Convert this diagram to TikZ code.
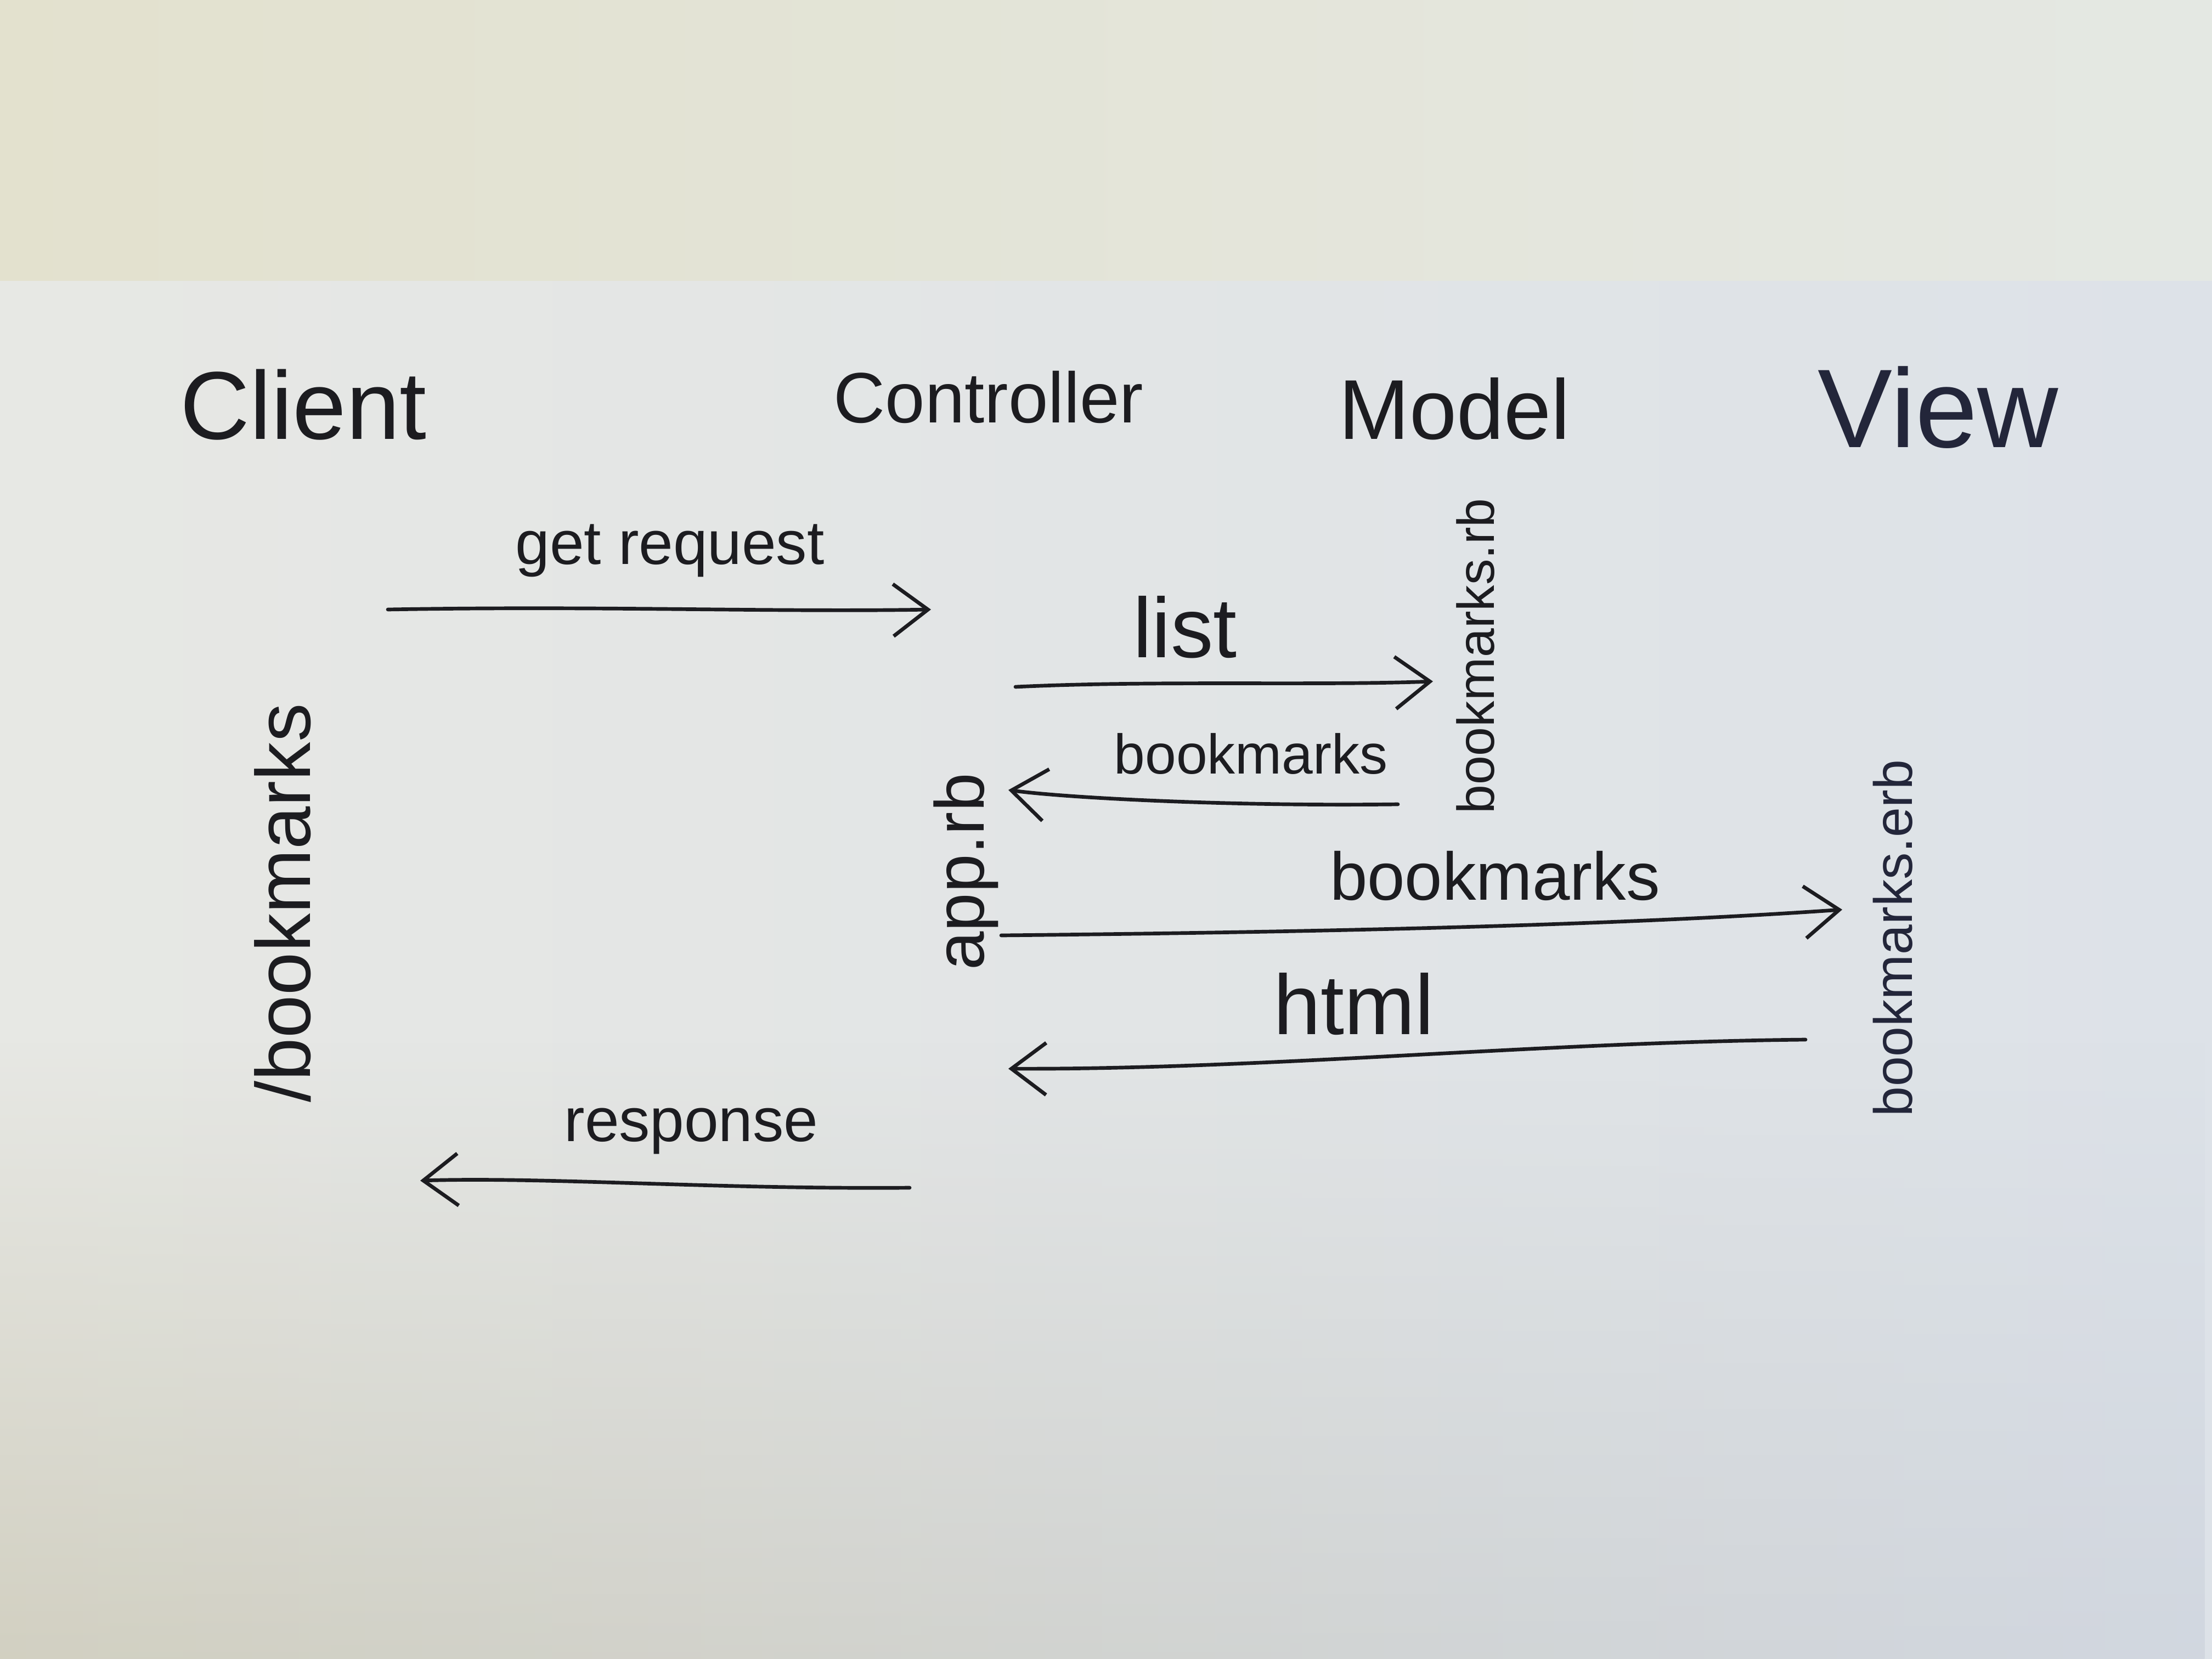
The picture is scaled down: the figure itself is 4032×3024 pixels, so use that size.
\documentclass[tikz,border=0pt]{standalone}
\usepackage{fontspec}
\setmainfont{Liberation Sans}
\usetikzlibrary{arrows.meta,fadings}
\definecolor{inkc}{HTML}{1C1C20}
\definecolor{navyink}{HTML}{23263A}
\definecolor{wallL}{HTML}{E3E1CE}
\definecolor{wallR}{HTML}{E4E8E3}
\definecolor{boardL}{HTML}{E7E8E4}
\definecolor{boardR}{HTML}{DDE2E8}
\definecolor{shadowL}{HTML}{CBC8B6}
\definecolor{shadowR}{HTML}{CDD3DD}
\begin{document}
\begin{tikzpicture}[x=0.01cm,y=-0.01cm,
  stroke/.style={draw=inkc,line width=1.9pt,line cap=round,line join=round},
  flow/.style={stroke,-{Straight Barb[length=18pt,width=27pt]}},
  head/.style={text=inkc,inner sep=0pt,anchor=base},
  lab/.style={text=inkc,inner sep=0pt,anchor=base},
  vert/.style={text=inkc,inner sep=0pt,rotate=90}]
% background
\useasboundingbox (0,0) rectangle (4032,3024);
\shade[left color=wallL,right color=wallR] (0,0) rectangle (4032,512);
\shade[left color=boardL,right color=boardR] (0,512) rectangle (4032,3024);
\shade[left color=shadowL,right color=shadowR,path fading=north,opacity=0.75] (0,1900) rectangle (4032,3024);
% headings
\node[head,font=\fontsize{50}{56}\selectfont] (client) at (553,800) {Client};
\node[head,font=\fontsize{37}{42}\selectfont] (controller) at (1802,770) {Controller};
\node[head,font=\fontsize{44}{50}\selectfont] (model) at (2651,800) {Model};
\node[head,font=\fontsize{58}{64}\selectfont,text=navyink] (view) at (3533,815) {View};
% vertical file names
\node[vert,font=\fontsize{40}{46}\selectfont] (route) at (515,1646) {/bookmarks};
\node[vert,font=\fontsize{36}{42}\selectfont] (app) at (1761,1589) {app.rb};
\node[vert,font=\fontsize{27}{32}\selectfont] (modelfile) at (2690,1196) {bookmarks.rb};
\node[vert,font=\fontsize{28}{34}\selectfont,text=navyink] (viewfile) at (3450,1710) {bookmarks.erb};
% arrow end points
\coordinate (a1s) at (707,1111);  \coordinate (a1e) at (1697,1111);
\coordinate (a2s) at (1851,1252); \coordinate (a2e) at (2612,1242);
\coordinate (a3s) at (2548,1466); \coordinate (a3e) at (1838,1440);
\coordinate (a4s) at (1825,1705); \coordinate (a4e) at (3358,1658);
\coordinate (a5s) at (3291,1895); \coordinate (a5e) at (1838,1948);
\coordinate (a6s) at (1658,2165); \coordinate (a6e) at (766,2152);
% arrows
\draw[flow] (a1s) .. controls (1100,1104) and (1400,1116) .. (a1e);
\draw[flow] (a2s) .. controls (2100,1240) and (2400,1250) .. (a2e);
\draw[flow] (a3s) .. controls (2250,1470) and (1950,1455) .. (a3e);
\draw[flow] (a4s) .. controls (2300,1700) and (2900,1690) .. (a4e);
\draw[flow] (a5s) .. controls (2800,1900) and (2300,1950) .. (a5e);
\draw[flow] (a6s) .. controls (1300,2168) and (1000,2145) .. (a6e);
% arrow labels
\node[lab,font=\fontsize{32}{38}\selectfont] (l1) at (1221,1028) {get request};
\node[lab,font=\fontsize{44}{50}\selectfont] (l2) at (2160,1198) {list};
\node[lab,font=\fontsize{29}{34}\selectfont] (l3) at (2280,1410) {bookmarks};
\node[lab,font=\fontsize{35}{40}\selectfont] (l4) at (2725,1640) {bookmarks};
\node[lab,font=\fontsize{44}{50}\selectfont] (l5) at (2468,1885) {html};
\node[lab,font=\fontsize{32}{38}\selectfont] (l6) at (1260,2080) {response};
\end{tikzpicture}
\end{document}
